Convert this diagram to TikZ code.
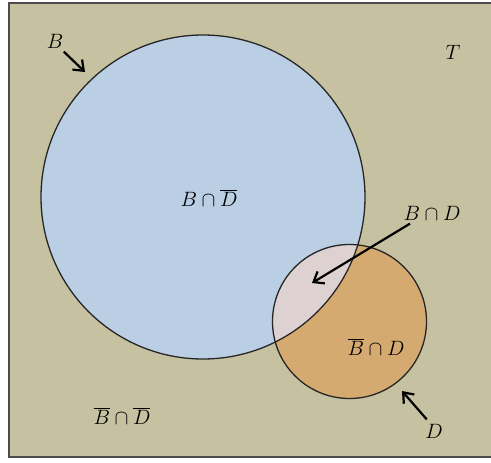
\documentclass[tikz,border=0pt]{standalone}
\usetikzlibrary{arrows.meta}
\definecolor{tanbg}{RGB}{198,193,160}
\definecolor{setB}{RGB}{186,206,228}
\definecolor{setD}{RGB}{213,170,112}
\definecolor{setBD}{RGB}{221,209,210}
\tikzset{
  lbl/.style={font=\fontsize{22}{26}\selectfont},
  ptr/.style={line width=2.2pt,-{Straight Barb[length=9pt,width=14pt]}},
  rim/.style={draw=black!85,line width=1.3pt},
}
\begin{document}
\begin{tikzpicture}[x=1pt,y=-1pt]
\useasboundingbox (0,0) rectangle (491,463);
\fill[tanbg] (9,3) rectangle (495,457);
\draw[black!70,line width=1.6pt] (495,3) -- (9,3) -- (9,457) -- (495,457);
% the two sets
\coordinate (cB) at (203,197);
\coordinate (cD) at (349.5,321.5);
\fill[setB] (cB) circle[radius=162];
\fill[setD] (cD) circle[radius=77];
\begin{scope}
\clip (cB) circle[radius=162];
\fill[setBD] (cD) circle[radius=77];
\end{scope}
\draw[rim] (cB) circle[radius=162];
\draw[rim] (cD) circle[radius=77];
% labels
\node[lbl] (T) at (453,52) {$T$};
\node[lbl] (Bl) at (55,41) {$B$};
\node[lbl] (Dl) at (434,431) {$D$};
\node[lbl] (BnotD) at (209,198) {$B\cap\overline{D}$};
\node[lbl] (BandD) at (432,213) {$B\cap D$};
\node[lbl] (notBD) at (376,347) {$\overline{B}\cap D$};
\node[lbl] (notBnotD) at (122,416) {$\overline{B}\cap\overline{D}$};
% pointers
\coordinate (Btip) at (85,72);
\coordinate (Dtip) at (402,391);
\coordinate (BDtip) at (312,283);
\draw[ptr] (Bl.south east) ++(-3,0) -- (Btip);
\draw[ptr] (Dl.north west) ++(5,-1) -- (Dtip);
\draw[ptr] (BandD.south west) ++(10,0) -- (BDtip);
\end{tikzpicture}
\end{document}
